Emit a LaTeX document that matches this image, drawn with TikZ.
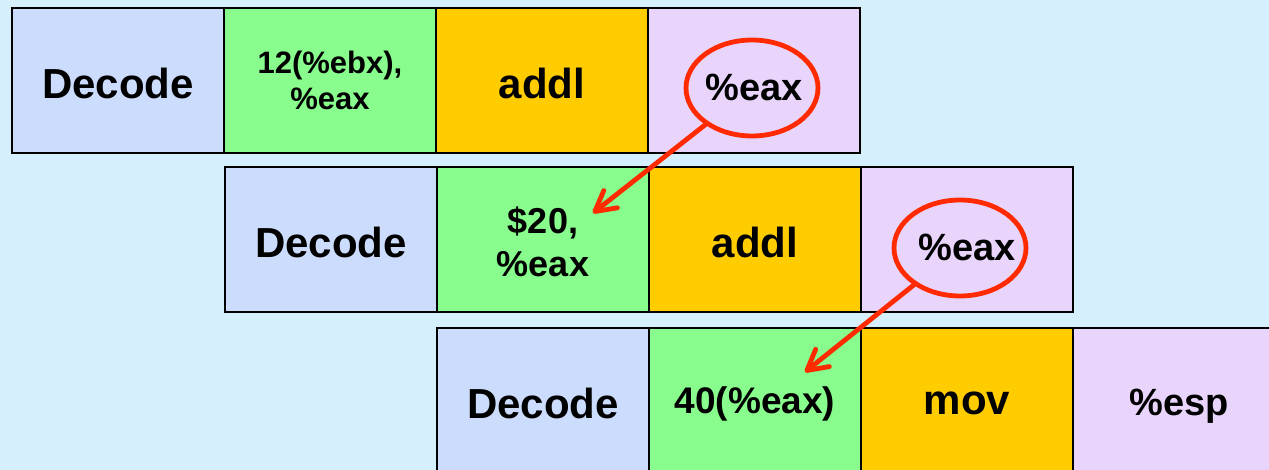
\documentclass[tikz,border=0pt]{standalone}
\usepackage{fontspec}
\setmainfont{Liberation Sans}
\usetikzlibrary{arrows.meta,shapes.geometric}
\definecolor{bgblue}{HTML}{D5EFFD}
\definecolor{decblue}{HTML}{CCDCFC}
\definecolor{opgreen}{HTML}{88FC8C}
\definecolor{oporange}{HTML}{FFCC00}
\definecolor{oplav}{HTML}{E9D5FC}
\definecolor{hired}{HTML}{FF2A00}
\newcommand{\dn}[2]{\raisebox{-#1pt}[\height][\depth]{#2}}
\tikzset{
  cell/.style={draw=black, line width=2pt, minimum width=212pt, minimum height=145pt,
    inner sep=0pt, font=\fontsize{42}{48}\selectfont\bfseries, align=center},
  dec/.style={cell, fill=decblue},
  src/.style={cell, fill=opgreen},
  opc/.style={cell, fill=oporange},
  dst/.style={cell, fill=oplav, font=\fontsize{38}{44}\selectfont\bfseries},
  ring/.style={ellipse, draw=hired, line width=4.8pt, minimum width=132pt, minimum height=96pt, inner sep=0pt},
  fwd/.style={draw=hired, line width=4.8pt, line cap=round, line join=round,
    -{Straight Barb[length=20pt,width=22pt,line cap=round,line join=round]}}
}
\begin{document}
\begin{tikzpicture}[x=1pt,y=-1pt]
\fill[bgblue] (0,0) rectangle (1269,470);
\useasboundingbox (0,0) rectangle (1269,470);
\begin{scope}
\clip (0,0) rectangle (1269,470);
% row 1
\node[dec] (d1) at (118,80.5) {\dn{2.5}{Decode}};
\node[src, font=\fontsize{31}{36}\selectfont\bfseries] (s1) at (330,80.5) {12(\%ebx),\\\%eax};
\node[opc] (o1) at (542,80.5) {\dn{2.5}{addl}};
\node[dst] (r1) at (754,80.5) {\dn{7}{\%eax}};
% row 2
\node[dec] (d2) at (331,240) {\dn{2.5}{Decode}};
\node[src, font=\fontsize{36}{43}\selectfont\bfseries] (s2) at (543,240) {\dn{1.5}{\$20,}\\\dn{1.5}{\%eax}};
\node[opc] (o2) at (755,240) {\dn{2.5}{addl}};
\node[dst] (r2) at (967,240) {\dn{7}{\%eax}};
% row 3
\node[dec] (d3) at (543,400.5) {\dn{2.5}{Decode}};
\node[src, font=\fontsize{37}{43}\selectfont\bfseries] (s3) at (755,400.5) {\dn{3}{40(\%eax)}};
\node[opc] (o3) at (967,400.5) {\dn{3}{mov}};
\node[dst] (r3) at (1179,400.5) {\dn{6}{\%esp}};
% highlights
\node[ring] (e1) at (752,88) {};
\node[ring] (e2) at (960,248) {};
\coordinate (t1) at (593,213);
\coordinate (t2) at (805,372);
\draw[fwd] (e1) -- (t1);
\draw[fwd] (e2) -- (t2);
\end{scope}
\end{tikzpicture}
\end{document}
